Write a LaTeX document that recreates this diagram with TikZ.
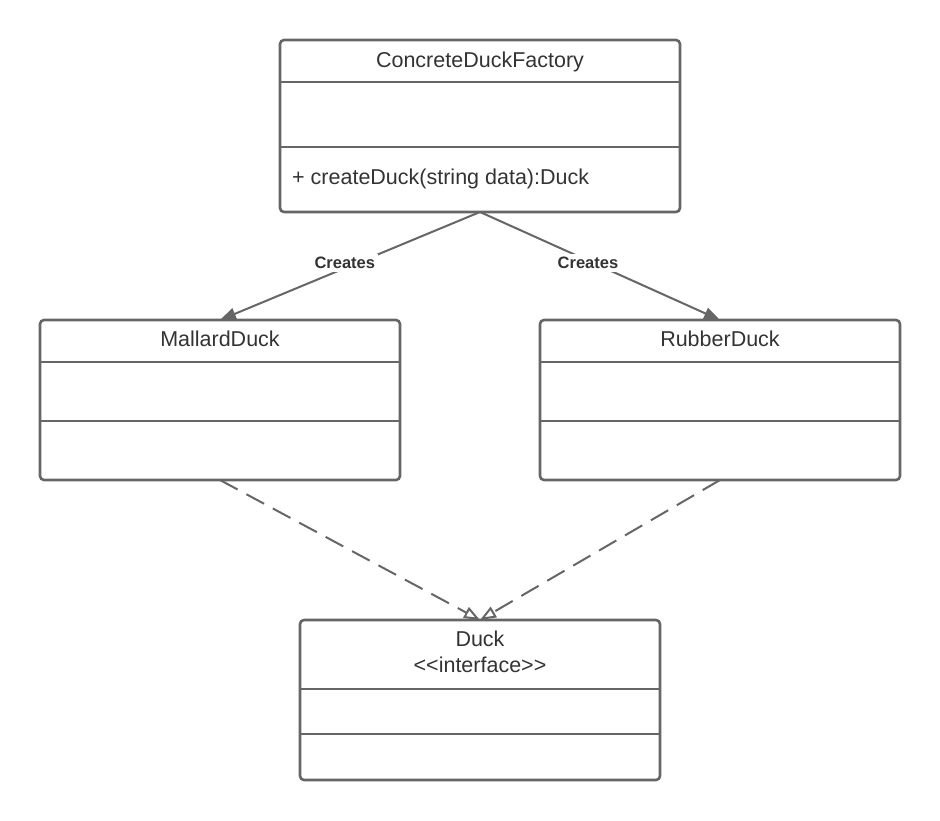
\documentclass[tikz,border=0pt]{standalone}
\usepackage{fontspec}
\setmainfont{Liberation Sans}
\usetikzlibrary{arrows.meta}
\definecolor{linegray}{HTML}{666666}
\definecolor{textgray}{HTML}{333333}

\begin{document}
\begin{tikzpicture}
    [
        x = 1pt, y = -1pt,
        classbox/.style = {draw = linegray, line width = 2.6pt, rounded corners = 4pt,
                inner sep = 0pt, outer sep = 0pt, minimum width = 360pt, minimum height = 160pt},
        divider/.style = {draw = linegray, line width = 2.6pt},
        classname/.style = {anchor = base, text = textgray, inner sep = 0pt,
                font = \fontsize{21.5}{26.5}\selectfont},
        member/.style = {classname, anchor = base west},
        creates/.style = {draw = linegray, line width = 2pt, -{Triangle[length = 16pt, width = 12pt]}},
        realizes/.style = {draw = linegray, line width = 2pt, dash pattern = on 20pt off 10pt,
                -{Triangle[open, length = 16pt, width = 12pt]}},
        edgelabel/.style = {fill = white, text = textgray, inner sep = 3pt,
                font = \bfseries\fontsize{16.5}{20}\selectfont},
    ]

    \useasboundingbox (0,0) rectangle (940,820);

    % class boxes
    \node[classbox, minimum width = 400pt, minimum height = 172pt] (factory) at (480,126) {};
    \node[classbox] (mallard) at (220,400) {};
    \node[classbox] (rubber) at (720,400) {};
    \node[classbox] (duck) at (480,700) {};

    \foreach \y in {82,147}{
            \draw[divider] (factory.west |- 0,\y) -- (factory.east |- 0,\y);
        }
    \foreach \b in {mallard,rubber}{
            \foreach \y in {362,421}{
                    \draw[divider] (\b.west |- 0,\y) -- (\b.east |- 0,\y);
                }
        }
    \foreach \y in {689,734}{
            \draw[divider] (duck.west |- 0,\y) -- (duck.east |- 0,\y);
        }

    \node[classname] (factoryname) at (480,67) {ConcreteDuckFactory};
    \node[member] (factorymethod) at (292,184) {+ createDuck(string data):Duck};
    \node[classname] (mallardname) at (220,346) {MallardDuck};
    \node[classname] (rubbername) at (720,346) {RubberDuck};
    \node[classname] (duckname) at (480,646) {Duck};
    \node[classname] (duckstereo) at (480,672.5) {<\kern0pt<interface>\kern0pt>};

    % connectors
    \draw[creates] (factory.south) -- (mallard.north)
    node[edgelabel, pos = 0.52, yshift = 5pt] (mallardlabel) {Creates};
    \draw[creates] (factory.south) -- (rubber.north)
    node[edgelabel, pos = 0.45, yshift = -2.5pt] (rubberlabel) {Creates};

    \foreach \b in {mallard,rubber}{
            \draw[realizes] (\b.south) -- (duck.north);
        }

\end{tikzpicture}
\end{document}
